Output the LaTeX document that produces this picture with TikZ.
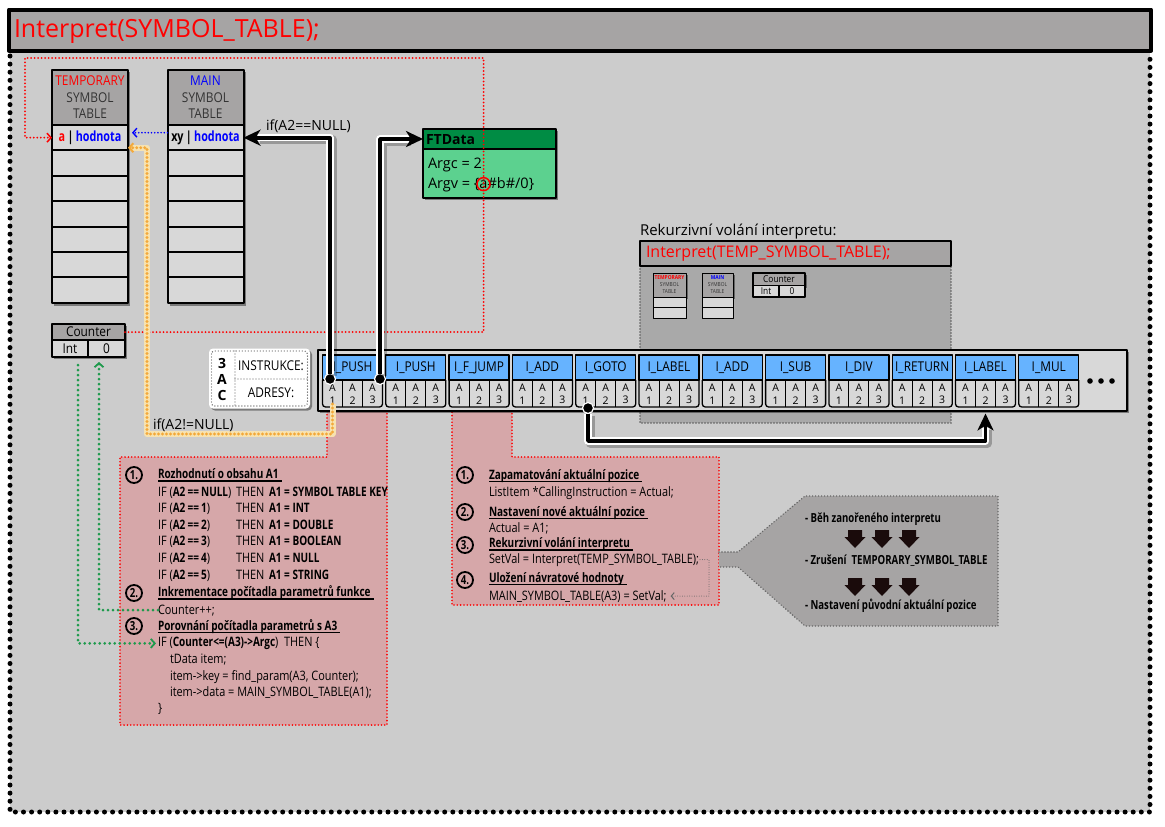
\documentclass[tikz,border=0pt]{standalone}
\usepackage{fontspec}
\setmainfont{Open Sans}
\newfontfamily\cond[FakeStretch=0.84]{Open Sans}
\newfontfamily\condb[FakeStretch=0.77]{Open Sans}
\newfontfamily\scond[FakeStretch=0.88]{Open Sans}
\usetikzlibrary{arrows.meta,shadows,calc}
\definecolor{bgc}{HTML}{CCCCCC}
\definecolor{hdr}{HTML}{A6A4A4}
\definecolor{cellc}{HTML}{D8D8D8}
\definecolor{pinkbox}{HTML}{D6A7A9}
\definecolor{instblue}{HTML}{66B3FF}
\definecolor{ftdark}{HTML}{008C44}
\definecolor{ftlight}{HTML}{5CD18F}
\definecolor{dotgreen}{HTML}{1E9A4C}
\definecolor{dotorange}{HTML}{F3A93A}
\definecolor{orangelight}{HTML}{F7E2B0}
\definecolor{recgray}{HTML}{A9A9A9}
\definecolor{arrowdark}{HTML}{1A0B0B}
\definecolor{hdrtext}{HTML}{333333}
\newcommand{\fsz}[1]{\fontsize{#1}{#1}\selectfont}
\begin{document}
\begin{tikzpicture}[x=1pt,y=-1pt,line join=round,
  every node/.style={inner sep=0pt,outer sep=0pt},
  shd/.style={drop shadow={shadow xshift=2pt,shadow yshift=-2pt,opacity=.4,fill=black}},
  framedots/.style={draw=black,line width=5pt,dash pattern=on 0pt off 8.1pt,line cap=round},
  reddots/.style={draw=red,line width=2pt,dash pattern=on 0pt off 3.5pt,line cap=round},
  bluedots/.style={draw=blue,line width=1.8pt,dash pattern=on 0pt off 3.2pt,line cap=round},
  greendots/.style={draw=dotgreen,line width=3pt,dash pattern=on 0pt off 5pt,line cap=round},
  orangeband/.style={draw=orangelight,line width=6pt,shorten >=3pt},
  orangedots/.style={draw=dotorange,line width=3.2pt,dash pattern=on 0pt off 4pt,line cap=round},
  graydots/.style={draw=black!60,line width=1.6pt,dash pattern=on 0pt off 3pt,line cap=round},
  pinkreg/.style={fill=pinkbox,draw=red,line width=1.8pt,dash pattern=on 0pt off 3.3pt,line cap=round},
  barb/.style={-{Straight Barb[length=4pt,width=9pt,line width=1.8pt]}},
  halo/.style={draw=white,line width=7.5pt,shorten >=14pt},
  cshadow/.style={draw=black,opacity=.25,line width=9pt,shorten >=14pt,transform canvas={xshift=2pt,yshift=-2pt}},
  conn/.style={draw=black,line width=3.8pt,-{Stealth[length=17pt,width=16pt,inset=5pt]}},
  dot/.style={circle,fill=black,draw=white,line width=1.2pt,minimum size=11pt},
  hdrcell/.style={draw=black,line width=2pt,fill=hdr},
  tcell/.style={draw=black,line width=2pt,fill=cellc},
  instcell/.style={draw=black,line width=1.3pt,fill=instblue,minimum width=60pt,minimum height=25pt,font=\scond\fsz{13.5}},
  sub/.style={font=\fontsize{10.5}{12.5}\selectfont,align=center},
  lt/.style={anchor=base west,font=\cond\fsz{13}},
  lb/.style={anchor=base west,font=\condb\bfseries\fsz{13}},
  numc/.style={circle,draw=black,line width=1.8pt,minimum size=16pt,font=\condb\bfseries\fsz{12.5}},
  uline/.style={line width=1.2pt},
]
\useasboundingbox (0,0) rectangle (1165,827);

% ---------- background frame ----------
\fill[bgc] (10,50) rectangle (1150,812);
\draw[framedots] (10,56) -- (10,812) -- (1150,812) -- (1150,56);
\node[draw=black,line width=4pt,fill=hdr,minimum width=1142pt,minimum height=41pt] (title) at (580,30) {};
\node[anchor=west,text=red,font=\fsz{25}] (ttl) at (14,31) {Interpret(SYMBOL\_TABLE);};

% ---------- pink regions and callout ----------
\path[pinkreg] (327,411) -- (387,411) -- (387,725) -- (120,725) -- (120,457) -- (327,457) -- cycle;
\path[pinkreg] (452,411) -- (512,411) -- (512,457) -- (719,457) -- (719,605) -- (452,605) -- cycle;
\fill[hdr] (719,552) -- (738,552) -- (805,496) -- (998,496) -- (998,626) -- (805,626) -- (738,567) -- (719,567) -- cycle;
\draw[graydots] (719,552) -- (738,552) -- (805,496) -- (998,496) -- (998,626) -- (805,626) -- (738,567) -- (719,567);

% ---------- recursion region ----------
\node[anchor=base west,font=\fsz{15}] (rk) at (640,235) {Rekurzivní volání interpretu:};
\fill[recgray] (640,266) rectangle (951,423);
\draw[graydots,draw=black!65] (640,266) -- (640,423) -- (951,423) -- (951,266);
\node[draw=black,line width=2pt,fill=hdr,minimum width=311pt,minimum height=25pt] (rt) at (795.5,253.5) {};
\node[anchor=west,text=red,font=\fsz{16}] (rtt) at (646,254) {Interpret(TEMP\_SYMBOL\_TABLE);};
% mini tables
\node[draw=black,line width=1pt,fill=hdr,minimum width=33pt,minimum height=24pt,align=center,text=hdrtext,font=\scond\fontsize{5.5}{7}\selectfont,shd] (mth) at (669.5,285) {\textcolor{red}{\textbf{TEMPORARY}}\\SYMBOL\\TABLE};
\node[draw=black,line width=1pt,fill=cellc,minimum width=33pt,minimum height=10.5pt] (mt1) at (669.5,302.25) {};
\node[draw=black,line width=1pt,fill=cellc,minimum width=33pt,minimum height=10.5pt] (mt2) at (669.5,312.75) {};
\node[draw=black,line width=1pt,fill=hdr,minimum width=31pt,minimum height=24pt,align=center,text=hdrtext,font=\scond\fontsize{5.5}{7}\selectfont,shd] (mmh) at (717.5,285) {\textcolor{blue}{\textbf{MAIN}}\\SYMBOL\\TABLE};
\node[draw=black,line width=1pt,fill=cellc,minimum width=31pt,minimum height=10.5pt] (mm1) at (717.5,302.25) {};
\node[draw=black,line width=1pt,fill=cellc,minimum width=31pt,minimum height=10.5pt] (mm2) at (717.5,312.75) {};
\node[draw=black,line width=1.2pt,fill=hdr,minimum width=52pt,minimum height=12.5pt,font=\scond\fsz{9.5},shd] (mch) at (779,279.25) {Counter};
\node[draw=black,line width=1.2pt,fill=cellc,minimum width=26pt,minimum height=11.5pt,font=\scond\fsz{9.5}] (mci) at (766,291.25) {Int};
\node[draw=black,line width=1.2pt,fill=cellc,minimum width=26pt,minimum height=11.5pt,font=\scond\fsz{9.5}] (mcv) at (792,291.25) {0};

% ---------- symbol tables ----------
\path[fill=cellc,shd] (52,70) rectangle (128,303.8);
\node[hdrcell,minimum width=76pt,minimum height=55pt,align=center,text=hdrtext,font=\scond\fontsize{13.5}{16.5}\selectfont] (th) at (90,97.5) {\textcolor{red}{TEMPORARY}\\SYMBOL\\TABLE};
\node[tcell,minimum width=76pt,minimum height=25.4pt,font=\condb\bfseries\fsz{14}] (t1) at (90,137.7) {\textcolor{red}{a}\,\textcolor{black}{|}\,\textcolor{blue}{hodnota}};
\foreach \i in {2,...,7} \node[tcell,minimum width=76pt,minimum height=25.4pt] (t\i) at (90,{112.3+25.4*\i}) {};

\path[fill=cellc,shd] (167.5,70) rectangle (243.5,303.8);
\node[hdrcell,minimum width=76pt,minimum height=55pt,align=center,text=hdrtext,font=\scond\fontsize{13.5}{16.5}\selectfont] (mh) at (205.5,97.5) {\textcolor{blue}{MAIN}\\SYMBOL\\TABLE};
\node[tcell,minimum width=76pt,minimum height=25.4pt,font=\condb\bfseries\fsz{14}] (m1) at (205.5,137.7) {xy\,|\,\textcolor{blue}{hodnota}};
\foreach \i in {2,...,7} \node[tcell,minimum width=76pt,minimum height=25.4pt] (m\i) at (205.5,{112.3+25.4*\i}) {};

% counter
\path[fill=cellc,shd] (52,324) rectangle (125,357);
\node[hdrcell,minimum width=73pt,minimum height=16.5pt,font=\scond\fsz{13.5}] (ch) at (88.5,332) {Counter};
\node[tcell,minimum width=36pt,minimum height=16.5pt,font=\scond\fsz{13.5}] (ci) at (70,348.5) {Int};
\node[tcell,minimum width=37pt,minimum height=16.5pt,font=\scond\fsz{13.5}] (cv) at (106.5,348.5) {0};

% ---------- FTData ----------
\path[fill=ftlight,shd] (423,129) rectangle (556,198);
\node[draw=black,line width=2pt,fill=ftdark,minimum width=133pt,minimum height=20pt] (fth) at (489.5,139) {};
\node[anchor=west,font=\bfseries\fsz{14}] (ftt) at (426,139.5) {FTData};
\node[draw=black,line width=2pt,fill=ftlight,minimum width=133pt,minimum height=49pt] (ftb) at (489.5,173.5) {};
\node[anchor=base west,font=\fsz{14.5}] (fa) at (428,168) {Argc = 2};
\node[anchor=base west,font=\fsz{14.5}] (fv) at (428,188) {Argv = \{};
\node[anchor=base west,font=\fsz{14.5}] (fva) at (fv.base east) {a};
\node[anchor=base west,font=\fsz{14.5}] (fvb) at (fva.base east) {\#b\#/0\}};
\draw[red,line width=1.5pt] (fva.center) circle (6.5);

% ---------- red and blue dotted links ----------
\coordinate (rtop) at (25,58);
\coordinate (r1) at (fva.center |- rtop);
\draw[reddots,-{Straight Barb[length=4pt,width=9pt,line width=1.5pt]}] (ch.east) -| (r1) -- (rtop) |- (t1.west);
\draw[bluedots,-{Straight Barb[length=4pt,width=9pt,line width=1.4pt]}] ([yshift=5pt]m1.west) -- ([xshift=4pt,yshift=5pt]t1.east);

% ---------- 3AC box ----------
\node[fill=white,rounded corners=4pt,minimum width=101pt,minimum height=60pt,shd] (tac) at (259.5,378.5) {};
\draw[graydots,line width=1.4pt,rounded corners=3pt] (211.5,351) rectangle (307.5,406);
\draw[graydots,line width=1.2pt] (235,351) -- (235,406);
\draw[graydots,line width=1.2pt] (235,379) -- (307.5,379);
\node[font=\bfseries\fsz{14}] (n3) at (222,363.5) {3};
\node[font=\bfseries\fsz{14}] (nA) at (222,379) {A};
\node[font=\bfseries\fsz{14}] (nC) at (222,395) {C};
\node[font=\scond\fsz{13.5}] (instr) at (271,366) {INSTRUKCE:};
\node[font=\scond\fsz{13.5}] (adr) at (271,393) {ADRESY:};

% ---------- instruction strip ----------
\node[draw=black,line width=2.5pt,fill=cellc,minimum width=809pt,minimum height=61pt,shd] (strip) at (722.5,380.5) {};
\foreach \lab [count=\i from 0] in {I\_PUSH,I\_PUSH,I\_F\_JUMP,I\_ADD,I\_GOTO,I\_LABEL,I\_ADD,I\_SUB,I\_DIV,I\_RETURN,I\_LABEL,I\_MUL}{
  \pgfmathsetmacro{\lx}{322.5+63.3*\i}
  \draw[line width=1.3pt,fill=cellc,rounded corners=3pt] (\lx,380) -- (\lx,407) -- ({\lx+60},407) -- ({\lx+60},380);
  \draw[line width=1pt] ({\lx+20},380) -- ({\lx+20},407) ({\lx+40},380) -- ({\lx+40},407);
  \node[instcell] (ins\i) at ({\lx+30},367.5) {\lab};
  \foreach \k in {1,2,3} \node[sub] (s\i-\k) at ({\lx+20*\k-10},394) {A\\\k};
}
\fill (1090,381) circle (2.8) (1101,381) circle (2.8) (1112,381) circle (2.8);

% ---------- dots on addresses ----------
\node[dot] (d0) at (330,379) {};
\node[dot] (d1) at (380,379) {};
\node[dot] (dg) at (588,408) {};

% ---------- orange dotted link ----------
\coordinate (ob) at (147,434);
\coordinate (ot) at ([yshift=-10pt]t1.east);
\draw[orangeband] (s0-1.south) |- (ob) |- (ot);
\draw[orangedots,-{Straight Barb[length=4pt,width=9pt,line width=2pt]}] (s0-1.south) |- (ob) |- (ot);
\node[anchor=west,font=\fsz{14}] (ifn) at (153,425) {if(A2!=NULL)};

% ---------- black connectors ----------
\coordinate (c3) at (600,441);
\coordinate (lbl) at (s10-2 |- strip.south);
\draw[cshadow] (d0) |- (m1.east);
\draw[cshadow] (d1) |- (fth.west);
\draw[cshadow] (dg) |- (c3) -| ([yshift=-2.5pt]lbl);
\draw[halo] (d0) |- (m1.east);
\draw[halo] (d1) |- (fth.west);
\draw[halo] (dg) |- (c3) -| ([yshift=-2.5pt]lbl);
\draw[conn] (d0) |- (m1.east);
\draw[conn] (d1) |- (fth.west);
\draw[conn] (dg) |- (c3) -| ([yshift=-2.5pt]lbl);
\node[anchor=west,font=\fsz{14}] (ifeq) at (266,126) {if(A2==NULL)};

% ---------- left pink box text ----------
\node[numc] (n1) at (134,475) {1.};
\node[lb] (h1) at (158,478.5) {Rozhodnutí o obsahu A1};
\draw[uline] ([yshift=-2.5pt]h1.base west) -- ([yshift=-2.5pt,xshift=3pt]h1.base east);
\foreach \v/\r [count=\j] in {NULL/SYMBOL TABLE KEY,1/INT,2/DOUBLE,3/BOOLEAN,4/NULL,5/STRING}{
  \node[lt] (if\j) at (158,{479.5+16.6*\j}) {IF (\textbf{\condb A2\,==\,\v})};
  \node[lt] (then\j) at (236,{479.5+16.6*\j}) {THEN};
  \node[lb] (as\j) at (269,{479.5+16.6*\j}) {A1 = \r};
}
\node[numc] (n2) at (134,593) {2.};
\node[lb] (h2) at (158,596.5) {Inkrementace počítadla parametrů funkce};
\draw[uline] ([yshift=-2.5pt]h2.base west) -- ([yshift=-2.5pt,xshift=3pt]h2.base east);
\node[lt] (lcpp) at (158,614) {Counter++;};
\node[numc] (n3c) at (134,626) {3.};
\node[lb] (h3) at (158,630) {Porovnání počítadla parametrů s A3};
\draw[uline] ([yshift=-2.5pt]h3.base west) -- ([yshift=-2.5pt,xshift=3pt]h3.base east);
\node[lt] (lif) at (158,646.5) {IF (\textbf{\condb Counter<=(A3)->Argc})\ \ THEN \{};
\node[lt] (ltd) at (170,663) {tData item;};
\node[lt] (lkey) at (170,680) {item->key = find\_param(A3, Counter);};
\node[lt] (ldat) at (170,696) {item->data = MAIN\_SYMBOL\_TABLE(A1);};
\node[lt] (lend) at (158,712) {\}};

% green links
\coordinate (gu) at (99,362);
\coordinate (gd) at (78,365);
\draw[greendots,barb] (lcpp.west) -| (gu);
\draw[greendots,barb] (gd) |- ([xshift=-2pt]lif.west);

% ---------- middle pink box text ----------
\node[numc] (nb1) at (465,475) {1.};
\node[lb] (hb1) at (489,479) {Zapamatování aktuální pozice};
\draw[uline] ([yshift=-2.5pt]hb1.base west) -- ([yshift=-2.5pt,xshift=3pt]hb1.base east);
\node[lt] (mc1) at (489,496) {ListItem *CallingInstruction = Actual;};
\node[numc] (nb2) at (465,512) {2.};
\node[lb] (hb2) at (489,516) {Nastavení nové aktuální pozice};
\draw[uline] ([yshift=-2.5pt]hb2.base west) -- ([yshift=-2.5pt,xshift=3pt]hb2.base east);
\node[lt] (mc2) at (489,532) {Actual = A1;};
\node[numc] (nb3) at (465,545) {3.};
\node[lb] (hb3) at (489,547.5) {Rekurzivní volání interpretu};
\draw[uline] ([yshift=-2.5pt]hb3.base west) -- ([yshift=-2.5pt,xshift=3pt]hb3.base east);
\node[lt] (msv) at (489,563) {SetVal = Interpret(TEMP\_SYMBOL\_TABLE);};
\node[numc] (nb4) at (465,580) {4.};
\node[lb] (hb4) at (489,582) {Uložení návratové hodnoty};
\draw[uline] ([yshift=-2.5pt]hb4.base west) -- ([yshift=-2.5pt,xshift=3pt]hb4.base east);
\node[lt] (mms) at (489,600) {MAIN\_SYMBOL\_TABLE(A3) = SetVal;};
\coordinate (cg) at (709,580);
\draw[draw=black!60,line width=1pt,dash pattern=on 0pt off 2.4pt,line cap=round,-{Straight Barb[length=3pt,width=7pt,line width=1pt]}] ([xshift=1pt]msv.east) -| (cg) |- ([xshift=4pt]mms.east);

% ---------- callout text ----------
\node[lb,font=\condb\bfseries\fsz{12.5}] (cb1) at (805,522) {- Běh zanořeného interpretu};
\node[lb,font=\condb\bfseries\fsz{12.5}] (cb2) at (805,564) {- Zrušení\ \ TEMPORARY\_SYMBOL\_TABLE};
\node[lb,font=\condb\bfseries\fsz{12.5}] (cb3) at (805,609) {- Nastavení původní aktuální pozice};
\foreach \x in {855,882,909}{
  \foreach \y in {530,578}{
    \fill[arrowdark] (\x-7,\y) -- (\x+7,\y) -- (\x+7,\y+7) -- (\x+10.5,\y+7) -- (\x,\y+18) -- (\x-10.5,\y+7) -- (\x-7,\y+7) -- cycle;
  }
}
\end{tikzpicture}
\end{document}
